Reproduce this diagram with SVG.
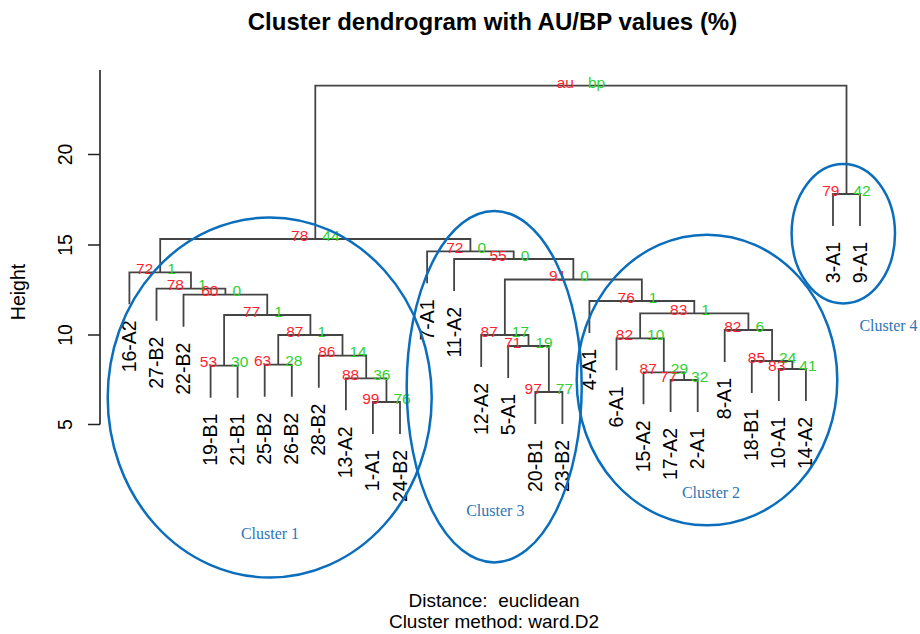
<svg xmlns="http://www.w3.org/2000/svg" width="920" height="634" viewBox="0 0 920 634">
<style>
.t{font-family:"Liberation Sans",Arial,sans-serif;fill:#000}
.title{font-size:24px;font-weight:bold;text-anchor:middle}
.lf{font-size:19.5px;text-anchor:end}
.ax{font-size:19.5px;text-anchor:middle}
.sub{font-size:19px;text-anchor:middle}
.au{font-family:"Liberation Sans",Arial,sans-serif;font-size:15.5px;fill:#FF1F2F;text-anchor:end}
.bp{font-family:"Liberation Sans",Arial,sans-serif;font-size:15.5px;fill:#2ED12E;text-anchor:start}
.edge{fill:none;stroke:#444;stroke-width:1.8}
.axis{fill:none;stroke:#222;stroke-width:1.6}
.cl{fill:none;stroke:#0A6EBD;stroke-width:2.5}
.cll{font-family:"Liberation Serif","Times New Roman",serif;font-size:16px;fill:#2E75B6;text-anchor:middle}
</style>
<rect width="920" height="634" fill="#fff"/>
<text class="t title" x="492.5" y="29.5">Cluster dendrogram with AU/BP values (%)</text>
<g id="axis">
<path class="axis" d="M100 70 V424.5 M88 154.5 H100 M88 245 H100 M88 335 H100 M88 424.5 H100"/>
<text class="t ax" x="71.5" y="154.5" transform="rotate(-90 71.5 154.5)">20</text>
<text class="t ax" x="71.5" y="245" transform="rotate(-90 71.5 245)">15</text>
<text class="t ax" x="71.5" y="335" transform="rotate(-90 71.5 335)">10</text>
<text class="t ax" x="71.5" y="424.5" transform="rotate(-90 71.5 424.5)">5</text>
<text class="t ax" x="24.5" y="292" transform="rotate(-90 24.5 292)">Height</text>
</g>
<g id="connectors">
<path class="edge" d="M372.9 434 V402 H400 V434"/>
<path class="edge" d="M345.9 410.3 V378.3 H386.45 V402"/>
<path class="edge" d="M318.8 387.7 V355.7 H366.2 V378.3"/>
<path class="edge" d="M264.7 396.7 V364.7 H291.8 V396.7"/>
<path class="edge" d="M278.25 364.7 V335 H342.5 V355.7"/>
<path class="edge" d="M210.6 397.7 V365.7 H237.6 V397.7"/>
<path class="edge" d="M224.1 365.7 V315 H310.4 V335"/>
<path class="edge" d="M183.5 326.7 V294.7 H267.25 V315"/>
<path class="edge" d="M156.5 320.7 V288.7 H225.4 V294.7"/>
<path class="edge" d="M129.4 304.3 V272.3 H190.95 V288.7"/>
<path class="edge" d="M535.3 424 V392 H562.4 V424"/>
<path class="edge" d="M508.2 378 V346 H548.85 V392"/>
<path class="edge" d="M481.2 367 V335 H528.5 V346"/>
<path class="edge" d="M670.6 412 V380 H697.7 V412"/>
<path class="edge" d="M643.5 404.3 V372.3 H684.15 V380"/>
<path class="edge" d="M616.5 370.3 V338.3 H663.8 V372.3"/>
<path class="edge" d="M778.8 401 V369 H805.9 V401"/>
<path class="edge" d="M751.8 393 V361 H792.35 V369"/>
<path class="edge" d="M724.7 362 V330 H772.1 V361"/>
<path class="edge" d="M640.15 338.3 V313.3 H748.4 V330"/>
<path class="edge" d="M589.4 333 V301 H694.3 V313.3"/>
<path class="edge" d="M504.85 335 V279.5 H641.85 V301"/>
<path class="edge" d="M454.1 291 V259 H573.35 V279.5"/>
<path class="edge" d="M427.1 283.3 V251.3 H513.7 V259"/>
<path class="edge" d="M160.2 272.3 V239 H470.4 V251.3"/>
<path class="edge" d="M833 226 V194 H860 V226"/>
<path class="edge" d="M315.3 239 V85.7 H846.5 V194"/>
</g>
<g id="leaves">
<g id="leaf-16-A2"><text class="t lf" x="135.9" y="320.3" transform="rotate(-90 135.9 320.3)">16-A2</text></g>
<g id="leaf-27-B2"><text class="t lf" x="163" y="336.7" transform="rotate(-90 163 336.7)">27-B2</text></g>
<g id="leaf-22-B2"><text class="t lf" x="190" y="342.7" transform="rotate(-90 190 342.7)">22-B2</text></g>
<g id="leaf-19-B1"><text class="t lf" x="217.1" y="413.7" transform="rotate(-90 217.1 413.7)">19-B1</text></g>
<g id="leaf-21-B1"><text class="t lf" x="244.1" y="413.7" transform="rotate(-90 244.1 413.7)">21-B1</text></g>
<g id="leaf-25-B2"><text class="t lf" x="271.2" y="412.7" transform="rotate(-90 271.2 412.7)">25-B2</text></g>
<g id="leaf-26-B2"><text class="t lf" x="298.3" y="412.7" transform="rotate(-90 298.3 412.7)">26-B2</text></g>
<g id="leaf-28-B2"><text class="t lf" x="325.3" y="403.7" transform="rotate(-90 325.3 403.7)">28-B2</text></g>
<g id="leaf-13-A2"><text class="t lf" x="352.4" y="426.3" transform="rotate(-90 352.4 426.3)">13-A2</text></g>
<g id="leaf-1-A1"><text class="t lf" x="379.4" y="450" transform="rotate(-90 379.4 450)">1-A1</text></g>
<g id="leaf-24-B2"><text class="t lf" x="406.5" y="450" transform="rotate(-90 406.5 450)">24-B2</text></g>
<g id="leaf-7-A1"><text class="t lf" x="433.6" y="299.3" transform="rotate(-90 433.6 299.3)">7-A1</text></g>
<g id="leaf-11-A2"><text class="t lf" x="460.6" y="307" transform="rotate(-90 460.6 307)">11-A2</text></g>
<g id="leaf-12-A2"><text class="t lf" x="487.7" y="383" transform="rotate(-90 487.7 383)">12-A2</text></g>
<g id="leaf-5-A1"><text class="t lf" x="514.7" y="394" transform="rotate(-90 514.7 394)">5-A1</text></g>
<g id="leaf-20-B1"><text class="t lf" x="541.8" y="440" transform="rotate(-90 541.8 440)">20-B1</text></g>
<g id="leaf-23-B2"><text class="t lf" x="568.9" y="440" transform="rotate(-90 568.9 440)">23-B2</text></g>
<g id="leaf-4-A1"><text class="t lf" x="595.9" y="349" transform="rotate(-90 595.9 349)">4-A1</text></g>
<g id="leaf-6-A1"><text class="t lf" x="623" y="386.3" transform="rotate(-90 623 386.3)">6-A1</text></g>
<g id="leaf-15-A2"><text class="t lf" x="650" y="420.3" transform="rotate(-90 650 420.3)">15-A2</text></g>
<g id="leaf-17-A2"><text class="t lf" x="677.1" y="428" transform="rotate(-90 677.1 428)">17-A2</text></g>
<g id="leaf-2-A1"><text class="t lf" x="704.2" y="428" transform="rotate(-90 704.2 428)">2-A1</text></g>
<g id="leaf-8-A1"><text class="t lf" x="731.2" y="378" transform="rotate(-90 731.2 378)">8-A1</text></g>
<g id="leaf-18-B1"><text class="t lf" x="758.3" y="409" transform="rotate(-90 758.3 409)">18-B1</text></g>
<g id="leaf-10-A1"><text class="t lf" x="785.3" y="417" transform="rotate(-90 785.3 417)">10-A1</text></g>
<g id="leaf-14-A2"><text class="t lf" x="812.4" y="417" transform="rotate(-90 812.4 417)">14-A2</text></g>
<g id="leaf-3-A1"><text class="t lf" x="839.5" y="242" transform="rotate(-90 839.5 242)">3-A1</text></g>
<g id="leaf-9-A1"><text class="t lf" x="866.5" y="242" transform="rotate(-90 866.5 242)">9-A1</text></g>
</g>
<g id="nodes">
<g id="n-top"><text class="au" x="573.9" y="88">au</text><text class="bp" x="587.9" y="88">bp</text></g>
<g id="n-A"><text class="au" x="308.3" y="240.5">78</text><text class="bp" x="322.3" y="240.5">44</text></g>
<g id="n-72a"><text class="au" x="153.2" y="273.8">72</text><text class="bp" x="167.2" y="273.8">1</text></g>
<g id="n-78a"><text class="au" x="183.9" y="290.2">78</text><text class="bp" x="197.9" y="290.2">1</text></g>
<g id="n-60"><text class="au" x="218.4" y="296.2">60</text><text class="bp" x="232.4" y="296.2">0</text></g>
<g id="n-77a"><text class="au" x="260.2" y="316.5">77</text><text class="bp" x="274.2" y="316.5">1</text></g>
<g id="n-53"><text class="au" x="217.1" y="367.2">53</text><text class="bp" x="231.1" y="367.2">30</text></g>
<g id="n-87a"><text class="au" x="303.4" y="336.5">87</text><text class="bp" x="317.4" y="336.5">1</text></g>
<g id="n-63"><text class="au" x="271.2" y="366.2">63</text><text class="bp" x="285.2" y="366.2">28</text></g>
<g id="n-86"><text class="au" x="335.5" y="357.2">86</text><text class="bp" x="349.5" y="357.2">14</text></g>
<g id="n-88"><text class="au" x="359.2" y="379.8">88</text><text class="bp" x="373.2" y="379.8">36</text></g>
<g id="n-99"><text class="au" x="379.4" y="403.5">99</text><text class="bp" x="393.4" y="403.5">76</text></g>
<g id="n-72b"><text class="au" x="463.4" y="252.8">72</text><text class="bp" x="477.4" y="252.8">0</text></g>
<g id="n-55"><text class="au" x="506.7" y="260.5">55</text><text class="bp" x="520.7" y="260.5">0</text></g>
<g id="n-91"><text class="au" x="566.3" y="281">91</text><text class="bp" x="580.3" y="281">0</text></g>
<g id="n-87b"><text class="au" x="497.8" y="336.5">87</text><text class="bp" x="511.8" y="336.5">17</text></g>
<g id="n-71"><text class="au" x="521.5" y="347.5">71</text><text class="bp" x="535.5" y="347.5">19</text></g>
<g id="n-97"><text class="au" x="541.8" y="393.5">97</text><text class="bp" x="555.8" y="393.5">77</text></g>
<g id="n-76"><text class="au" x="634.8" y="302.5">76</text><text class="bp" x="648.8" y="302.5">1</text></g>
<g id="n-83a"><text class="au" x="687.3" y="314.8">83</text><text class="bp" x="701.3" y="314.8">1</text></g>
<g id="n-82a"><text class="au" x="633.1" y="339.8">82</text><text class="bp" x="647.1" y="339.8">10</text></g>
<g id="n-87c"><text class="au" x="656.8" y="373.8">87</text><text class="bp" x="670.8" y="373.8">29</text></g>
<g id="n-77b"><text class="au" x="677.1" y="381.5">77</text><text class="bp" x="691.1" y="381.5">32</text></g>
<g id="n-82b"><text class="au" x="741.4" y="331.5">82</text><text class="bp" x="755.4" y="331.5">6</text></g>
<g id="n-85"><text class="au" x="765.1" y="362.5">85</text><text class="bp" x="779.1" y="362.5">24</text></g>
<g id="n-83b"><text class="au" x="785.3" y="370.5">83</text><text class="bp" x="799.3" y="370.5">41</text></g>
<g id="n-79"><text class="au" x="839.5" y="195.5">79</text><text class="bp" x="853.5" y="195.5">42</text></g>
</g>
<g id="clusters">
<g id="cluster-1"><ellipse class="cl" cx="269.7" cy="397.5" rx="162" ry="180"/><text class="cll" x="270" y="539">Cluster 1</text></g>
<g id="cluster-3"><ellipse class="cl" cx="494.2" cy="386.7" rx="87.5" ry="175.7"/><text class="cll" x="495.3" y="516">Cluster 3</text></g>
<g id="cluster-2"><ellipse class="cl" cx="707" cy="380" rx="130.3" ry="145.3"/><text class="cll" x="711" y="498">Cluster 2</text></g>
<g id="cluster-4"><ellipse class="cl" cx="843.3" cy="233.7" rx="51.7" ry="69.7"/><text class="cll" x="888.5" y="331">Cluster 4</text></g>
</g>
<text class="t sub" x="494" y="607" xml:space="preserve">Distance:&#160; euclidean</text>
<text class="t sub" x="494" y="628">Cluster method: ward.D2</text>
</svg>
